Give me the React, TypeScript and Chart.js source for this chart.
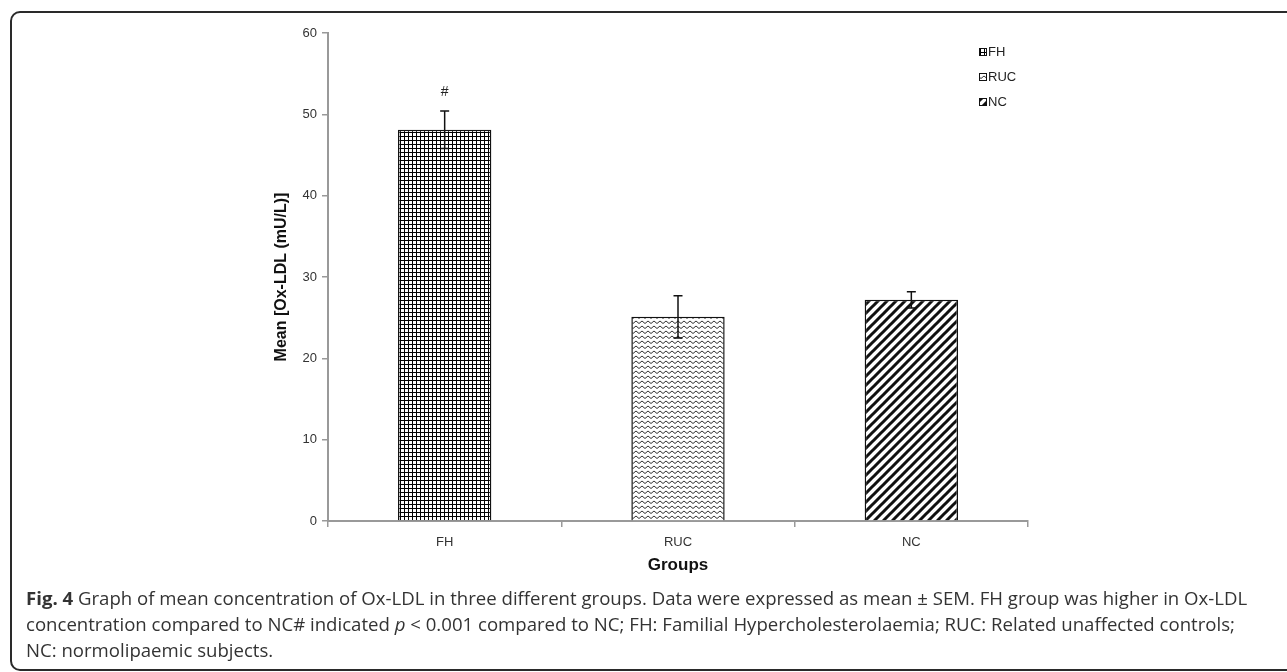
import React, { useEffect, useRef } from "react";
import { Chart, registerables } from "chart.js";

Chart.register(...registerables);

// ---- data ----
const categories = ["FH", "RUC", "NC"];
const means = [48.1, 25.1, 27.2];
const sems = [2.3, 2.6, 1.0];
const marks = ["#", "", ""];
const yTicks = [0, 10, 20, 30, 40, 50, 60];
const patternKinds = ["grid", "zigzag", "diagonal"];
const yTitle = "Mean [Ox-LDL (mU/L)]";
const xTitle = "Groups";

const FONT = "'Liberation Sans', Arial, sans-serif";

function makePattern(kind: string): CanvasPattern | string {
  const c = document.createElement("canvas");
  const ctx = c.getContext("2d");
  if (!ctx) return "#fff";
  if (kind === "grid") {
    c.width = 4;
    c.height = 4;
    ctx.fillStyle = "#fff";
    ctx.fillRect(0, 0, 4, 4);
    ctx.fillStyle = "#000";
    ctx.fillRect(0, 0, 4, 1);
    ctx.fillRect(0, 0, 1, 4);
  } else if (kind === "zigzag") {
    c.width = 6;
    c.height = 5;
    ctx.fillStyle = "#fff";
    ctx.fillRect(0, 0, 6, 5);
    ctx.strokeStyle = "#333";
    ctx.lineWidth = 1;
    ctx.beginPath();
    ctx.moveTo(0, 1);
    ctx.lineTo(3, 3.5);
    ctx.lineTo(6, 1);
    ctx.stroke();
  } else {
    const s = 9;
    c.width = s;
    c.height = s;
    ctx.fillStyle = "#fff";
    ctx.fillRect(0, 0, s, s);
    ctx.strokeStyle = "#111";
    ctx.lineWidth = 3;
    ctx.beginPath();
    ctx.moveTo(-1, s + 1);
    ctx.lineTo(s + 1, -1);
    ctx.moveTo(-2, 2);
    ctx.lineTo(2, -2);
    ctx.moveTo(s - 2, s + 2);
    ctx.lineTo(s + 2, s - 2);
    ctx.stroke();
  }
  return ctx.createPattern(c, "repeat") || "#fff";
}

const errorBarPlugin = {
  id: "errorBars",
  afterDatasetsDraw(chart: any) {
    const { ctx } = chart;
    const meta = chart.getDatasetMeta(0);
    const y = chart.scales.y;
    ctx.save();
    ctx.strokeStyle = "#111";
    ctx.lineWidth = 1.5;
    meta.data.forEach((bar: any, i: number) => {
      const x = bar.x;
      const top = y.getPixelForValue(means[i] + sems[i]);
      const bot = y.getPixelForValue(means[i] - sems[i]);
      ctx.beginPath();
      ctx.moveTo(x, top);
      ctx.lineTo(x, bot);
      ctx.moveTo(x - 4.5, top);
      ctx.lineTo(x + 4.5, top);
      ctx.moveTo(x - 4.5, bot);
      ctx.lineTo(x + 4.5, bot);
      ctx.stroke();
      if (marks[i]) {
        ctx.fillStyle = "#222";
        ctx.font = `14px ${FONT}`;
        ctx.textAlign = "center";
        ctx.textBaseline = "middle";
        ctx.fillText(marks[i], x, top - 19);
      }
    });
    ctx.restore();
  },
};

const legendPlugin = {
  id: "customLegend",
  afterDraw(chart: any) {
    const { ctx, chartArea } = chart;
    const ds = chart.data.datasets[0];
    const x0 = chartArea.right - 49;
    const y0 = chartArea.top + 19;
    ctx.save();
    ctx.font = `13px ${FONT}`;
    ctx.textAlign = "left";
    ctx.textBaseline = "middle";
    categories.forEach((label, i) => {
      const yy = y0 + i * 25;
      ctx.fillStyle = ds.backgroundColor[i];
      ctx.fillRect(x0, yy - 3.5, 7, 7);
      ctx.strokeStyle = "#111";
      ctx.lineWidth = 1;
      ctx.strokeRect(x0 + 0.5, yy - 3.5, 7, 7);
      ctx.fillStyle = "#222";
      ctx.fillText(label, x0 + 9, yy);
    });
    ctx.restore();
  },
};

function BarChart() {
  const ref = useRef<HTMLCanvasElement | null>(null);
  useEffect(() => {
    if (!ref.current) return;
    const patterns = patternKinds.map((k) => makePattern(k));
    const chart = new Chart(ref.current, {
      type: "bar",
      data: {
        labels: categories,
        datasets: [
          {
            data: means,
            backgroundColor: patterns as any,
            borderColor: "#111",
            borderWidth: 1.5,
            barPercentage: 0.4,
            categoryPercentage: 1,
          },
        ],
      },
      options: {
        responsive: false,
        animation: false,
        devicePixelRatio: 1,
        layout: { padding: { left: 272, right: 259, top: 33, bottom: 0 } },
        plugins: {
          legend: { display: false },
          tooltip: { enabled: false },
        },
        scales: {
          x: {
            grid: {
              display: true,
              drawOnChartArea: false,
              drawTicks: true,
              tickLength: 6,
              color: "#999",
              lineWidth: 1.5,
              offset: true,
            },
            border: { display: true, color: "#999", width: 2 },
            ticks: {
              font: { family: FONT, size: 13 },
              color: "#333",
              padding: 8,
            },
            title: {
              display: true,
              text: xTitle,
              font: { family: FONT, size: 17, weight: "bold" },
              color: "#111",
              padding: { top: 0, bottom: 24 },
            },
            afterFit: (s: any) => {
              s.height = 79;
            },
          },
          y: {
            min: 0,
            max: 60,
            afterBuildTicks: (s: any) => {
              s.ticks = yTicks.map((v) => ({ value: v }));
            },
            grid: {
              display: true,
              drawOnChartArea: false,
              drawTicks: true,
              tickLength: 6,
              color: "#999",
              lineWidth: 1.5,
            },
            border: { display: true, color: "#999", width: 2 },
            ticks: {
              font: { family: FONT, size: 13 },
              color: "#333",
              padding: 5,
            },
            title: {
              display: true,
              text: yTitle,
              font: { family: FONT, size: 16, weight: "bold" },
              color: "#111",
              padding: { top: 0, bottom: 0 },
            },
            afterFit: (s: any) => {
              s.width = 56;
            },
          },
        },
      } as any,
      plugins: [errorBarPlugin, legendPlugin],
    });
    return () => chart.destroy();
  }, []);
  return (
    <canvas
      ref={ref}
      width={1287}
      height={600}
      style={{ position: "absolute", left: 0, top: 0, width: 1287, height: 600 }}
    />
  );
}

export default function App() {
  return (
    <div
      style={{
        position: "fixed",
        left: 0,
        top: 0,
        width: 1287,
        height: 672,
        overflow: "hidden",
        background: "#fff",
      }}
    >
      <div
        style={{
          position: "absolute",
          left: 10,
          top: 11,
          width: 1300,
          height: 660,
          boxSizing: "border-box",
          border: "2px solid #2a2a2a",
          borderRadius: 10,
        }}
      />
      <BarChart />
      <div
        style={{
          position: "absolute",
          left: 26,
          top: 585,
          fontFamily: "'Open Sans', sans-serif",
          fontSize: 18.6,
          lineHeight: "26px",
          color: "#333",
          whiteSpace: "nowrap",
        }}
      >
        <b>Fig. 4</b> Graph of mean concentration of Ox-LDL in three different groups. Data were expressed as mean ± SEM. FH group was higher in Ox-LDL
        <br />
        concentration compared to NC# indicated <i>p</i> &lt; 0.001 compared to NC; FH: Familial Hypercholesterolaemia; RUC: Related unaffected controls;
        <br />
        NC: normolipaemic subjects.
      </div>
    </div>
  );
}
